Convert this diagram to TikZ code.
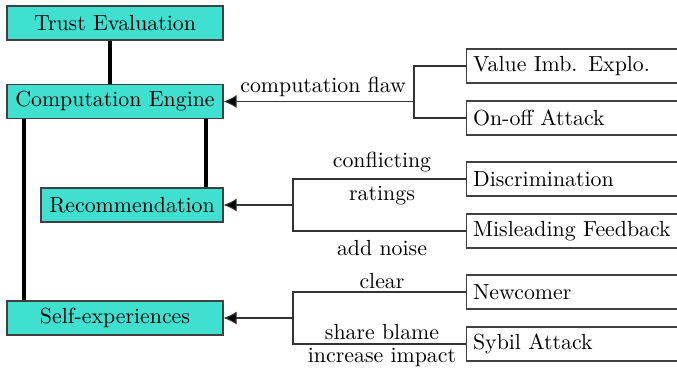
\documentclass[tikz,border=0pt]{standalone}
\usetikzlibrary{arrows.meta}
\definecolor{turq}{RGB}{64,224,208}
\begin{document}
\begin{tikzpicture}[x=0.4579pt,y=-0.4579pt,
  bluebox/.style={draw=black!75,fill=turq,line width=0.5pt,minimum height=34*0.4579pt,inner sep=0pt},
  attbox/.style={draw=black!75,line width=0.5pt,minimum height=34*0.4579pt,minimum width=240*0.4579pt,inner sep=3pt,anchor=west,text width=234*0.4579pt,align=left},
  thick link/.style={line width=2pt},
  thin link/.style={draw=black!80,line width=0.5pt},
  arr/.style={thin link,-{Latex[length=6pt,width=6pt,fill=black]}},
  lbl/.style={inner sep=1pt}]
\clip (0,0) rectangle (677,371);
\useasboundingbox (0,0) rectangle (677,371);
% left nodes
\node[bluebox,minimum width=216*0.4579pt] (te) at (115,23) {Trust Evaluation};
\node[bluebox,minimum width=216*0.4579pt] (ce) at (115,101.5) {Computation Engine};
\node[bluebox,minimum width=182*0.4579pt] (rec) at (132,205) {Recommendation};
\node[bluebox,minimum width=216*0.4579pt] (se) at (115,318) {Self-experiences};
% thick links
\draw[thick link] (te.south -| 110,0) -- (ce.north -| 110,0);
\draw[thick link] (ce.south -| 206,0) -- (rec.north -| 206,0);
\draw[thick link] (ce.south -| 24,0) -- (se.north -| 24,0);
% right nodes
\node[attbox] (vi) at (466,66) {Value Imb. Explo.};
\node[attbox] (oo) at (466,118) {On-off Attack};
\node[attbox] (dis) at (466,179) {Discrimination};
\node[attbox] (mf) at (466,231) {Misleading Feedback};
\node[attbox] (nc) at (466,292) {Newcomer};
\node[attbox] (sy) at (466,344) {Sybil Attack};
% branch points
\coordinate (b1) at (414,101.5);
\coordinate (b2) at (293,205);
\coordinate (b3) at (293,318);
\draw[thin link] (vi.west) -| (b1) |- (oo.west);
\draw[arr] (b1) -- node[lbl,above,xshift=2pt,yshift=1pt] {computation flaw} (ce.east);
\draw[thin link] (dis.west) -| (b2) |- (mf.west);
\draw[arr] (b2) -- (rec.east);
\draw[thin link] (nc.west) -| (b3) |- (sy.west);
\draw[arr] (b3) -- (se.east);
% labels
\node[lbl] (l1) at (382,162) {conflicting};
\node[lbl] (l2) at (382,196) {ratings};
\node[lbl] (l3) at (382,248) {add noise};
\node[lbl] (l4) at (382,281) {clear};
\node[lbl] (l5) at (382,332) {share blame};
\node[lbl] (l6) at (382,357) {increase impact};
\end{tikzpicture}
\end{document}
